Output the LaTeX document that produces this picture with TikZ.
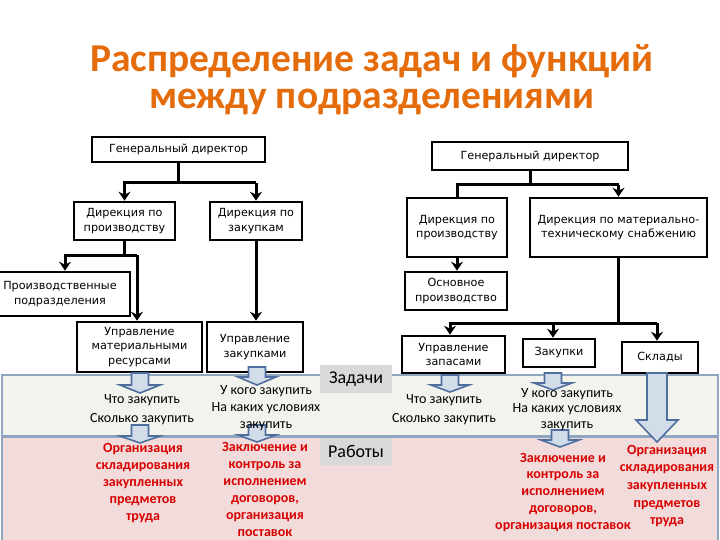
\documentclass[tikz,border=0pt]{standalone}
\usepackage{fontspec}
\setmainfont{Carlito}
\newfontfamily\boxfont{DejaVu Sans}
\usetikzlibrary{arrows.meta}
\definecolor{titleor}{HTML}{E46C0A}
\definecolor{taskband}{HTML}{F3F3EE}
\definecolor{workband}{HTML}{F2DCDB}
\definecolor{bandline}{HTML}{8FA6C2}
\definecolor{blkfill}{HTML}{D3DDEA}
\definecolor{blkline}{HTML}{4E6E9E}
\definecolor{redtxt}{HTML}{D80000}
\definecolor{lblgray}{HTML}{D9D9D9}
\newcommand\blkarrow[6]{%
  \draw[blk] (#1-#5,#2) -- (#1+#5,#2) -- (#1+#5,#3) -- (#1+#6,#3) -- (#1,#4)
    -- (#1-#6,#3) -- (#1-#5,#3) -- cycle;}
\begin{document}
\begin{tikzpicture}[x=1pt,y=-1pt,
  title/.style={font=\fontsize{39.5}{40}\selectfont\bfseries, text=titleor, inner sep=0},
  orgbox/.style={draw, line width=2.6pt, fill=white, align=center,
    font=\boxfont\fontsize{11.2}{14.5}\selectfont, inner sep=0},
  conn/.style={line width=3pt},
  arrc/.style={line width=3pt, -{Stealth[length=9pt,width=12pt,inset=3pt]}},
  blk/.style={draw=blkline, line width=1.6pt, fill=blkfill, line join=miter},
  task/.style={align=center, inner sep=0, font=\fontsize{14}{19}\selectfont},
  work/.style={align=center, inner sep=0, text=redtxt, font=\fontsize{14}{17}\selectfont\bfseries},
  lbl/.style={fill=lblgray, inner sep=0, font=\fontsize{18}{18}\selectfont}]
\useasboundingbox (0,0) rectangle (720,540);
\fill[white] (0,0) rectangle (720,540);

% bands
\draw[fill=workband, draw=bandline, line width=1.2pt] (2,437) rectangle (718,541);
\draw[fill=taskband, draw=bandline, line width=2pt] (2,375) rectangle (718,436);

% title
\node[title, anchor=base] (t1) at (372,72) {Распределение задач и функций};
\node[title, anchor=base] (t2) at (372,109) {между подразделениями};

% left tree boxes
\node[orgbox, minimum width=173pt, minimum height=25pt] (gd1) at (178.5,149.5) {Генеральный директор};
\node[orgbox, minimum width=101pt, minimum height=38pt] (dp1) at (124.5,221) {Дирекция по\\производству};
\node[orgbox, minimum width=92pt, minimum height=38pt] (dz1) at (256,221) {Дирекция по\\закупкам};
\node[orgbox, minimum width=140pt, minimum height=44pt, text width=135pt] (pp) at (60,294) {Производственные\\подразделения};
\node[orgbox, minimum width=125pt, minimum height=50pt] (um) at (139.5,347) {Управление\\материальными\\ресурсами};
\node[orgbox, minimum width=96pt, minimum height=50pt] (uz) at (255,347) {Управление\\закупками};

% right tree boxes
\node[orgbox, minimum width=196pt, minimum height=28pt] (gd2) at (530,156) {Генеральный директор};
\node[orgbox, minimum width=100pt, minimum height=59pt] (dp2) at (457,227.5) {Дирекция по\\производству};
\node[orgbox, minimum width=177pt, minimum height=59pt] (mts) at (618.5,227.5) {Дирекция по материально-\\техническому снабжению};
\node[orgbox, minimum width=102pt, minimum height=38pt] (op) at (456,291) {Основное\\производство};
\node[orgbox, minimum width=103pt, minimum height=37pt] (uzp) at (453.5,354.5) {Управление\\запасами};
\node[orgbox, minimum width=72pt, minimum height=28pt] (zk) at (559,353) {Закупки};
\node[orgbox, minimum width=76pt, minimum height=31pt] (sk) at (660,357.5) {Склады};

% left connectors
\coordinate (h1) at (0,183);
\draw[conn] (gd1.south) -- (gd1.south |- h1);
\draw[arrc] (dz1.north |- h1) -| (dp1.north);
\draw[arrc] (dz1.north |- h1) -- (dz1.north);
\coordinate (h2a) at (65,255);
\coordinate (h2b) at (137,255);
\draw[conn] (dp1.south) -- (dp1.south |- h2a);
\draw[arrc] (h2b) -- (h2a) -- (h2a |- pp.north);
\draw[arrc] (h2b) -- (h2b |- um.north);
\draw[arrc] (dz1.south) -- (dz1.south |- uz.north);

% right connectors
\coordinate (h3) at (0,185);
\draw[conn] (gd2.south) -- (gd2.south |- h3);
\draw[conn] (mts.north |- h3) -| (dp2.north);
\draw[arrc] (mts.north |- h3) -- (mts.north);
\draw[arrc] (dp2.south) -- (dp2.south |- op.north);
\coordinate (h4a) at (450,323);
\coordinate (h4b) at (553,323);
\coordinate (h4c) at (657,323);
\draw[conn] (mts.south) -- (mts.south |- h4a);
\draw[arrc] (h4c) -- (h4a) -- (h4a |- uzp.north);
\draw[arrc] (h4b) -- (h4b |- zk.north);
\draw[arrc] (h4c) -- (h4c |- sk.north);

% block arrows
\blkarrow{140}{373}{385}{393}{8.5}{20}
\blkarrow{140}{425}{436}{443}{8.5}{20}
\blkarrow{257}{367}{377}{385}{8.5}{19}
\blkarrow{257}{425}{435}{442}{8.5}{19}
\blkarrow{450}{375}{385}{392}{8.5}{19}
\blkarrow{553}{373}{383}{390}{8.5}{19}
\blkarrow{560}{430}{440}{447}{8.5}{19}
\blkarrow{657}{373}{420}{442}{10}{21}

% labels
\node[lbl, minimum width=72pt, minimum height=28pt] (lz) at (356,379) {Задачи};
\node[lbl, minimum width=72pt, minimum height=27pt] (lr) at (356,451.5) {Работы};

% task texts (anchor=base is the baseline of the last line)
\node[task, anchor=base] (ta1) at (142,422) {Что закупить\\Сколько закупить};
\node[task, anchor=base, font=\fontsize{14}{17}\selectfont] (ta2) at (266,428) {У кого закупить\\На каких условиях\\закупить};
\node[task, anchor=base] (ta3) at (444,422) {Что закупить\\Сколько закупить};
\node[task, anchor=base, font=\fontsize{14}{15.5}\selectfont] (ta4) at (567,428) {У кого закупить\\На каких условиях\\закупить};

% work texts
\node[work, anchor=base] (w1) at (143,520) {Организация\\складирования\\закупленных\\предметов\\труда};
\node[work, anchor=base] (w2) at (265,536.5) {Заключение и\\контроль за\\исполнением\\договоров,\\организация\\поставок};
\node[work, anchor=base, font=\fontsize{14}{16.8}\selectfont\bfseries] (w3) at (563,529.2) {Заключение и\\контроль за\\исполнением\\договоров,\\организация поставок};
\node[work, anchor=base, font=\fontsize{14}{17.7}\selectfont\bfseries] (w4) at (667,524.8) {Организация\\складирования\\закупленных\\предметов\\труда};
\end{tikzpicture}
\end{document}
